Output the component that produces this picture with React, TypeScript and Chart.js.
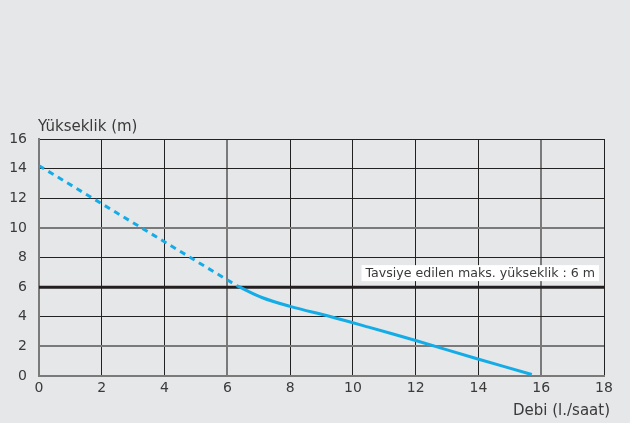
import React, { useEffect, useRef } from "react";
import { Chart, registerables } from "chart.js";

Chart.register(...registerables);

const dashedX = [0, 6.3];
const dashedY = [14.2, 6.1];
const solidX = [6.3, 7.1, 8.0, 9.3, 10.5, 12.0, 13.9, 15.7];
const solidY = [6.1, 5.3, 4.7, 4.0, 3.3, 2.4, 1.2, 0.1];
const limitX = [0, 18];
const limitY = [6, 6];
const xTicks = [0, 2, 4, 6, 8, 10, 12, 14, 16, 18];
const yTicks = [0, 2, 4, 6, 8, 10, 12, 14, 16];
const yTitle = "Yükseklik (m)";
const xTitle = "Debi (l./saat)";
const limitLabel = "Tavsiye edilen maks. yükseklik : 6 m";
const grayX = [0, 6, 16];
const grayY = [0, 2, 10];

const FONT = "'DejaVu Sans', sans-serif";
const BG = "#e6e7e9";
const TEXT = "#3a3a3a";

const toPts = (xs: number[], ys: number[]) => xs.map((x, i) => ({ x, y: ys[i] }));

const extras = {
  id: "extras",
  beforeDraw(chart: any) {
    const { ctx, width, height } = chart;
    ctx.save();
    ctx.fillStyle = BG;
    ctx.fillRect(0, 0, width, height);
    ctx.restore();
  },
  afterDraw(chart: any) {
    const { ctx, chartArea, scales } = chart;
    ctx.save();
    ctx.fillStyle = TEXT;
    ctx.font = `15px ${FONT}`;
    ctx.textBaseline = "middle";
    ctx.textAlign = "left";
    ctx.fillText(yTitle, chartArea.left - 1, chartArea.top - 12);
    ctx.textAlign = "right";
    ctx.fillText(xTitle, chartArea.right + 6, chartArea.bottom + 35);
    // annotation
    ctx.font = `12.6px ${FONT}`;
    const w = ctx.measureText(limitLabel).width;
    const y6 = scales.y.getPixelForValue(6);
    const right = chartArea.right - 5;
    const boxW = w + 8;
    const boxH = 16;
    ctx.fillStyle = "#ffffff";
    ctx.fillRect(right - boxW, y6 - 6 - boxH, boxW, boxH);
    ctx.fillStyle = TEXT;
    ctx.textAlign = "left";
    ctx.fillText(limitLabel, right - boxW + 4, y6 - 6 - boxH / 2 + 0.5);
    ctx.restore();
  },
};

export default function App() {
  const ref = useRef<HTMLCanvasElement | null>(null);
  useEffect(() => {
    if (!ref.current) return;
    const chart = new Chart(ref.current, {
      type: "line",
      data: {
        datasets: [
          {
            data: toPts(limitX, limitY),
            borderColor: "#231f20",
            borderWidth: 3,
            pointRadius: 0,
            order: 3,
          },
          {
            data: toPts(dashedX, dashedY),
            borderColor: "#14ace6",
            borderWidth: 3,
            borderDash: [6, 5],
            pointRadius: 0,
            order: 2,
          },
          {
            data: toPts(solidX, solidY),
            borderColor: "#14ace6",
            borderWidth: 3,
            pointRadius: 0,
            tension: 0.35,
            order: 1,
          },
        ],
      },
      options: {
        animation: false,
        responsive: false,
        maintainAspectRatio: false,
        layout: { padding: { left: 0, right: 26, top: 139, bottom: 0 } },
        plugins: { legend: { display: false }, tooltip: { enabled: false } },
        scales: {
          x: {
            type: "linear",
            min: 0,
            max: 18,
            afterFit: (s: any) => {
              s.height = 47;
            },
            afterBuildTicks: (s: any) => {
              s.ticks = xTicks.map((v) => ({ value: v }));
            },
            border: { display: true, color: "#7a7a7a", width: 2 },
            grid: {
              drawTicks: false,
              color: (c: any) => (grayX.includes(c.tick?.value) ? "#7a7a7a" : "#222222"),
              lineWidth: (c: any) => (grayX.includes(c.tick?.value) ? 2 : 1),
            },
            ticks: {
              padding: 4,
              color: TEXT,
              font: { family: FONT, size: 14 },
              maxRotation: 0,
            },
          },
          y: {
            type: "linear",
            min: 0,
            max: 16,
            afterFit: (s: any) => {
              s.width = 39;
            },
            afterBuildTicks: (s: any) => {
              s.ticks = yTicks.map((v) => ({ value: v }));
            },
            border: { display: true, color: "#7a7a7a", width: 2 },
            grid: {
              drawTicks: false,
              color: (c: any) => (grayY.includes(c.tick?.value) ? "#7a7a7a" : "#222222"),
              lineWidth: (c: any) => (grayY.includes(c.tick?.value) ? 2 : 1),
            },
            ticks: {
              padding: 12,
              color: TEXT,
              font: { family: FONT, size: 14 },
            },
          },
        },
      },
      plugins: [extras],
    } as any);
    return () => chart.destroy();
  }, []);
  return (
    <div style={{ position: "fixed", left: 0, top: 0, width: 630, height: 423, background: BG }}>
      <canvas ref={ref} width={630} height={423} style={{ display: "block" }} />
    </div>
  );
}
